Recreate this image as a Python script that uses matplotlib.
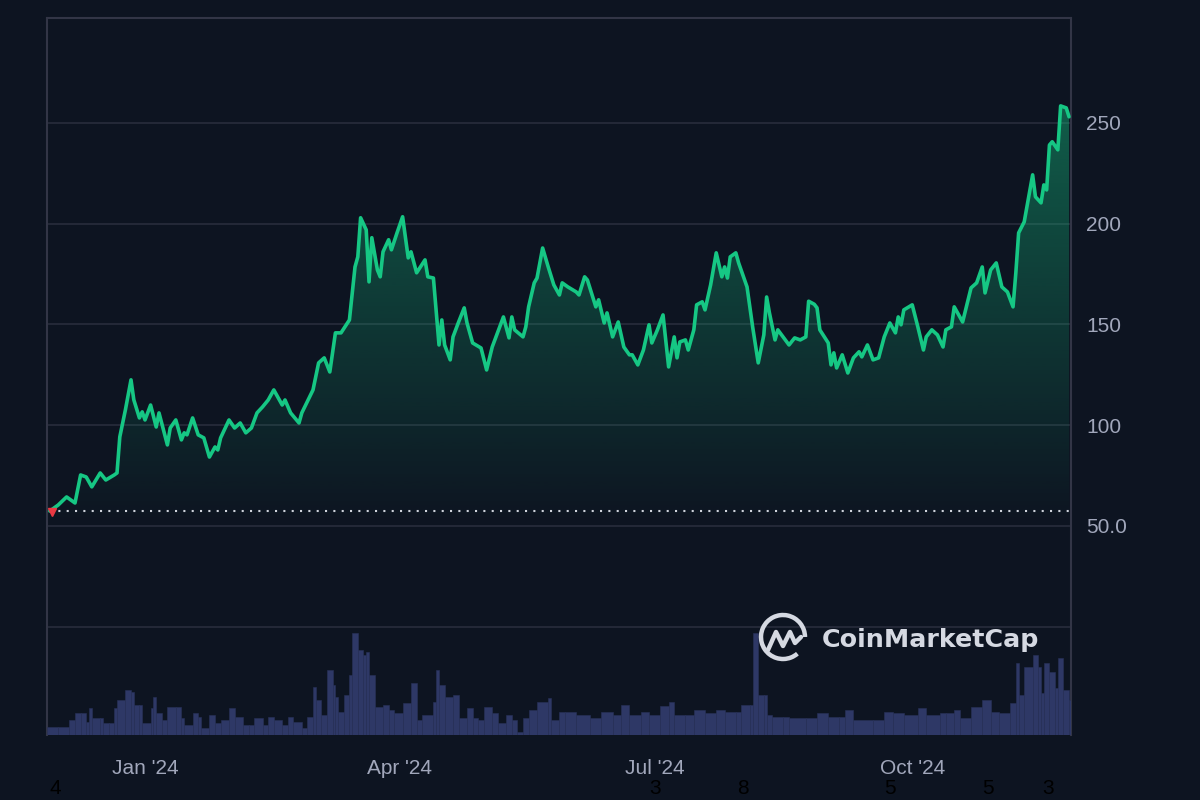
import numpy as np
import matplotlib
matplotlib.use('Agg')
from matplotlib import pyplot as plt
from matplotlib.patches import Arc
from matplotlib.lines import Line2D

START = np.datetime64('2023-11-27')

# price, day offset from START
price_days = [1, 4, 7, 10, 12, 14, 16, 19, 21, 24, 25, 26, 28, 30, 31, 33, 34, 35, 37, 39,
              40, 43, 44, 46, 48, 49, 50, 52, 54, 56, 58, 60, 61, 62, 65, 67, 69, 71, 73, 75,
              77, 79, 81, 84, 85, 87, 90, 91, 95, 97, 99, 101, 103, 105, 108, 110, 111, 112, 114, 115,
              116, 118, 119, 120, 122, 123, 125, 127, 129, 130, 132, 135, 136, 138, 140, 141, 142, 144, 145, 147,
              149, 150, 152, 155, 157, 159, 161, 163, 165, 166, 167, 170, 171, 172, 174, 175, 177, 179, 181, 183,
              184, 186, 189, 190, 192, 193, 196, 197, 199, 200, 202, 204, 206, 208, 209, 211, 213, 215, 216, 218,
              220, 222, 224, 225, 226, 228, 229, 231, 232, 234, 235, 237, 239, 241, 242, 243, 244, 246, 247, 250,
              252, 254, 256, 257, 258, 260, 261, 265, 267, 269, 271, 272, 274, 275, 276, 279, 280, 281, 282, 284,
              286, 288, 290, 291, 293, 295, 297, 299, 301, 303, 304, 305, 306, 309, 311, 313, 314, 316, 318, 320,
              321, 323, 324, 327, 330, 332, 334, 335, 337, 339, 341, 343, 345, 346, 347, 349, 352, 353, 355, 356,
              357, 358, 359, 361, 362, 364, 365]
price = [57.4, 60.4, 64.4, 61.4, 75.3, 74.3, 69.4, 76.3, 72.8, 75.3, 76.3, 94.2, 107.6, 122.5, 112.6, 103.6, 106.6, 102.6, 110.0, 99.1,
         106.1, 90.2, 98.6, 102.6, 92.7, 96.2, 95.2, 103.6, 95.2, 93.7, 84.2, 89.2, 87.7, 93.7, 102.6, 98.6, 101.1, 96.2, 98.6, 106.1,
         109.1, 112.5, 117.5, 110.0, 112.5, 106.1, 101.1, 106.1, 117.5, 130.9, 133.4, 126.4, 145.8, 145.8, 152.2, 178.5, 183.5, 202.9, 196.9, 171.1,
         193.0, 177.0, 173.6, 186.0, 192.0, 187.0, 195.4, 203.4, 183.0, 186.0, 175.6, 182.0, 173.6, 173.0, 139.8, 152.2, 139.8, 132.4, 143.8, 151.2,
         158.2, 150.7, 140.8, 138.3, 127.4, 138.8, 146.3, 153.7, 143.3, 153.7, 147.3, 143.8, 148.8, 158.7, 170.6, 173.0, 187.9, 178.5, 169.6, 164.6,
         170.6, 168.6, 166.1, 164.6, 173.6, 172.0, 158.7, 162.2, 150.7, 155.7, 143.8, 151.2, 138.8, 134.9, 134.9, 129.9, 137.3, 149.8, 140.8, 147.3,
         154.7, 128.9, 143.8, 133.4, 141.3, 142.3, 137.3, 147.3, 159.7, 161.2, 157.2, 169.6, 185.5, 173.6, 178.5, 173.0, 183.5, 185.5, 180.5, 168.6,
         148.8, 130.9, 144.8, 163.6, 155.7, 142.3, 147.3, 139.8, 143.3, 142.3, 143.8, 161.5, 160.0, 158.2, 147.3, 140.8, 129.9, 135.9, 128.4, 134.9,
         125.9, 133.4, 136.4, 133.9, 139.8, 132.4, 133.4, 143.8, 150.7, 145.8, 153.7, 149.8, 157.2, 159.7, 148.8, 137.3, 143.8, 147.3, 144.8, 138.8,
         147.3, 148.8, 158.7, 151.2, 168.1, 170.6, 178.5, 165.6, 177.0, 180.5, 168.6, 166.1, 158.7, 175.6, 195.4, 200.9, 224.2, 213.3, 210.3, 219.2,
         216.7, 239.0, 240.6, 236.6, 258.4, 257.4, 253.0]

# volume (relative units), day offset from START
vol_days = [0, 4, 8, 10, 12, 14, 15, 16, 19, 20, 22, 24, 25, 28, 30, 31, 33, 34, 37, 38,
            39, 41, 43, 46, 48, 49, 52, 54, 55, 58, 60, 62, 65, 67, 70, 72, 74, 77, 79, 81,
            84, 86, 88, 91, 93, 95, 96, 98, 100, 102, 103, 104, 106, 108, 109, 111, 113, 114, 115, 117,
            120, 122, 124, 127, 130, 132, 134, 138, 139, 140, 142, 145, 147, 150, 152, 154, 156, 159, 161, 164,
            166, 168, 170, 172, 175, 179, 180, 183, 185, 189, 194, 198, 202, 205, 208, 212, 215, 219, 222, 224,
            228, 231, 235, 239, 242, 246, 248, 251, 252, 254, 256, 257, 259, 263, 265, 271, 275, 279, 283, 285,
            288, 295, 299, 302, 306, 311, 314, 319, 321, 324, 326, 330, 334, 337, 340, 344, 346, 347, 349, 352,
            354, 355, 356, 358, 360, 361, 363, 365]
volume = [8, 8, 15, 22, 22, 13, 27, 17, 17, 12, 12, 27, 35, 45, 43, 30, 30, 12, 27, 38,
          22, 15, 28, 28, 17, 10, 22, 18, 7, 20, 12, 15, 27, 18, 10, 10, 17, 10, 18, 15,
          10, 18, 13, 7, 18, 48, 35, 20, 65, 50, 38, 23, 40, 60, 102, 85, 80, 83, 60, 28,
          30, 25, 22, 32, 52, 15, 20, 33, 65, 50, 38, 40, 17, 27, 17, 15, 28, 22, 12, 20,
          15, 3, 17, 25, 33, 37, 15, 23, 23, 20, 17, 23, 20, 30, 20, 23, 20, 29, 33, 20,
          20, 25, 22, 25, 23, 23, 30, 30, 102, 40, 40, 20, 18, 18, 17, 17, 22, 18, 18, 25,
          15, 15, 23, 22, 20, 27, 20, 22, 22, 25, 17, 28, 35, 23, 22, 32, 72, 40, 68, 80,
          68, 42, 72, 63, 47, 77, 45, 35]

open_price = 57.4
ytick_vals = [50, 100, 150, 200, 250]
ytick_labels = ['50.0', '100', '150', '200', '250']
grid_vals = [0, 50, 100, 150, 200, 250]
xtick_dates = ['2024-01-01', '2024-04-01', '2024-07-01', '2024-10-01']
xtick_labels = ["Jan '24", "Apr '24", "Jul '24", "Oct '24"]
stray_digits = [('4', 55), ('3', 655), ('8', 743), ('5', 890), ('5', 988), ('3', 1048)]

BG = '#0d1421'
GREEN = '#16c784'
GRID = '#262b3a'
SPINE = '#323546'
TICK = '#a1a7bb'

plt.rcParams['font.family'] = ['Liberation Sans', 'DejaVu Sans']

W, H = 1200, 800
fig = plt.figure(figsize=(12, 8), dpi=100, facecolor=BG)
ax = fig.add_axes([47 / W, 1 - 735 / H, (1071 - 47) / W, (735 - 18) / H])
ax.set_facecolor(BG)

# volume panel on a twin axis (drawn first, price labels fixed afterwards)
vax = ax.twinx()
vd = np.array(vol_days, dtype=float)
widths = np.diff(np.append(vd, 366.0))
vax.bar(vd, volume, width=widths, align='edge', color='#2e3866', edgecolor='#283159', lw=0.4)
vax.set_ylim(0, max(volume) * 7.03)
vax.set_yticks([])
for side in vax.spines:
    vax.spines[side].set_visible(False)

d = np.array(price_days, dtype=float)
p = np.array(price)

for g in grid_vals:
    ax.axhline(g, color=GRID, lw=1.3, zorder=0)

# gradient fill under the line
poly = ax.fill_between(d, p, 50, color='none', lw=0)
rgb = matplotlib.colors.to_rgb(GREEN)
grad = np.zeros((256, 1, 4))
grad[:, 0, :3] = rgb
grad[:, 0, 3] = np.linspace(0.42, 0.0, 256)
im = ax.imshow(grad, extent=[d[0], d[-1], 50, 262], aspect='auto', origin='upper', zorder=1)
im.set_clip_path(poly.get_paths()[0], transform=ax.transData)

ax.plot(d, p, color=GREEN, lw=2.6, solid_joinstyle='round', solid_capstyle='round', zorder=3)
ax.plot([d[0], d[-1]], [open_price, open_price], color='#cfd3dc', lw=1.5,
        linestyle=(0, (1, 3)), zorder=2)
ax.plot([d[0] + 0.7], [open_price - 0.5], marker='v', color='#ea3943', ms=6, zorder=4)

ax.set_xlim(0, 365.7)
ax.set_ylim(-53.7, 302)

xt = [(np.datetime64(s) - START).astype(int) for s in xtick_dates]
ax.set_xticks(xt)
ax.set_xticklabels(xtick_labels)
ax.set_yticks(ytick_vals)
ax.set_yticklabels(ytick_labels)
ax.tick_params(axis='y', left=False, labelleft=False, right=True, labelright=True,
               length=0, pad=11, labelsize=15, labelcolor=TICK)
ax.tick_params(axis='x', length=0, pad=17, labelsize=15, labelcolor=TICK)

for side in ['left', 'right', 'top']:
    ax.spines[side].set_color(SPINE)
    ax.spines[side].set_linewidth(1.5)
ax.spines['bottom'].set_visible(False)

# watermark
wm = '#d5d9e2'
cx, cy, r = 783, 800 - 637, 22
fig.add_artist(Arc((cx / W, cy / H), 2 * r / W, 2 * r / H, theta1=0, theta2=300,
                   color=wm, lw=3.2, transform=fig.transFigure))
mx = np.array([-15, -7, 0, 7, 12, 18])
my = np.array([-13, 5, -9, 5, -6, 0])
fig.add_artist(Line2D((cx + mx) / W, (cy + my) / H, color=wm, lw=3.2,
                      solid_joinstyle='round', solid_capstyle='round',
                      transform=fig.transFigure))
fig.text(822 / W, 1 - 640 / H, 'CoinMarketCap', color=wm, fontsize=18.3,
         fontweight='bold', family='DejaVu Sans', va='center', ha='left')

for txt, x in stray_digits:
    fig.text(x / W, 1 - 788 / H, txt, color='#000000', fontsize=15, ha='center', va='center')

fig.savefig('out.png', dpi=100, facecolor=BG)
